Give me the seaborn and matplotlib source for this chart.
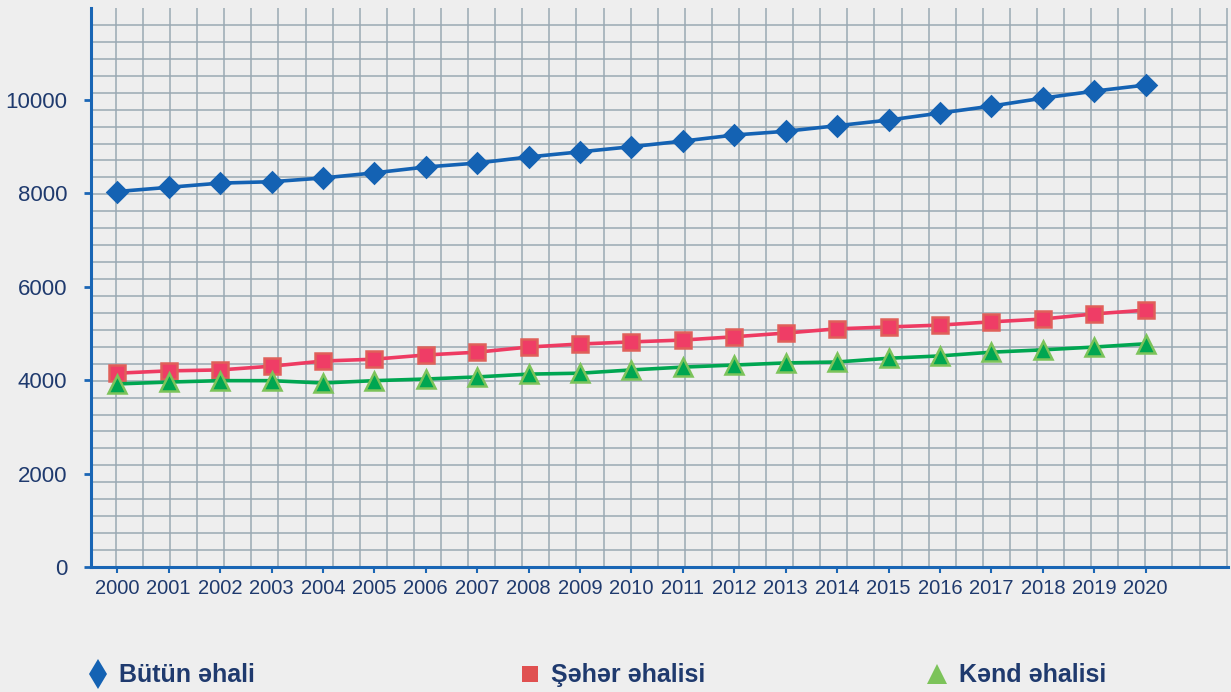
import numpy as np
import pandas as pd
import matplotlib
matplotlib.use("Agg")
import matplotlib.pyplot as plt
from matplotlib.lines import Line2D
import seaborn as sns

# data (thousand persons)
years = list(range(2000, 2021))
total = [8040, 8130, 8220, 8250, 8330, 8440, 8565, 8650, 8780, 8890, 9000,
         9120, 9250, 9330, 9450, 9570, 9720, 9870, 10040, 10190, 10320]
urban = [4150, 4200, 4220, 4300, 4410, 4450, 4540, 4600, 4710, 4775, 4820,
         4860, 4930, 5010, 5100, 5140, 5180, 5250, 5310, 5420, 5500]
rural = [3920, 3960, 3990, 3990, 3940, 3990, 4025, 4070, 4130, 4150, 4220,
         4280, 4325, 4370, 4390, 4470, 4520, 4600, 4650, 4710, 4780]
series_names = ["Bütün əhali", "Şəhər əhalisi", "Kənd əhalisi"]
y_ticks = [0, 2000, 4000, 6000, 8000, 10000]

df = pd.DataFrame({"year": years, series_names[0]: total,
                   series_names[1]: urban, series_names[2]: rural})

sns.set_theme(style="white")
plt.rcParams["font.family"] = ["Liberation Sans", "DejaVu Sans"]

bg = "#eeeeee"
axis_blue = "#1a66b5"
text_col = "#1f3a6e"
grid_col = "#9aa9b3"

fig = plt.figure(figsize=(12.31, 6.92), dpi=100, facecolor=bg)
rect = [91 / 1231, 1 - 567 / 692, 1137 / 1231, 559 / 692]

# decorative square grid behind the chart
gax = fig.add_axes(rect, zorder=0)
gax.set_facecolor(bg)
gax.set_xlim(-0.92, 41.05)
gax.set_ylim(0, 33.0)
gax.vlines(np.arange(0, 42), 0, 33.0, color=grid_col, lw=1.1)
gax.hlines(np.arange(1, 33), -0.92, 41.0, color=grid_col, lw=1.1)
gax.axis("off")

ax = fig.add_axes(rect, zorder=1)
ax.set_facecolor("none")

styles = [
    dict(color="#1462b3", marker="D", markersize=10.5, mfc="#1462b3", mec="#1462b3"),
    dict(color="#ee3b62", marker="s", markersize=12, mfc="#ef3d66", mec="#e0605a"),
    dict(color="#00a651", marker="^", markersize=13, mfc="#00a651", mec="#7cc35a"),
]
for name, st in zip(series_names, styles):
    sns.lineplot(data=df, x="year", y=name, ax=ax, lw=2.6,
                 markeredgewidth=1.8, **st)

ax.set_xlim(1999.49, 2021.6)
ax.set_ylim(0, 11970)
ax.set_xticks(years)
ax.set_yticks(y_ticks)
ax.set_xlabel("")
ax.set_ylabel("")

for s in ["top", "right"]:
    ax.spines[s].set_visible(False)
for s in ["left", "bottom"]:
    ax.spines[s].set_color(axis_blue)
    ax.spines[s].set_linewidth(2.2)

ax.tick_params(axis="y", direction="out", length=5, width=2, color=axis_blue,
               labelsize=16, labelcolor=text_col, pad=12, left=True)
ax.tick_params(axis="x", direction="out", length=4, width=1.5, color=axis_blue,
               labelsize=14.5, labelcolor=text_col, pad=5, bottom=True)

# legend along the bottom, markers only
legend_specs = [
    (series_names[0], dict(marker="d", color="#1462b3", markersize=15), 0.053),
    (series_names[1], dict(marker="s", color="#e05050", markersize=12), 0.404),
    (series_names[2], dict(marker="^", color="#7cc35a", markersize=14), 0.735),
]
for name, mk, xpos in legend_specs:
    h = Line2D([], [], linestyle="none", markeredgewidth=0, **mk)
    leg = fig.legend(handles=[h], labels=[name], loc="center left",
                     bbox_to_anchor=(xpos, 0.024), frameon=False,
                     handlelength=0.8, handletextpad=0.45,
                     prop=dict(weight="bold", size=18))
    for t in leg.get_texts():
        t.set_color(text_col)

fig.savefig("out.png", dpi=100, facecolor=bg)
